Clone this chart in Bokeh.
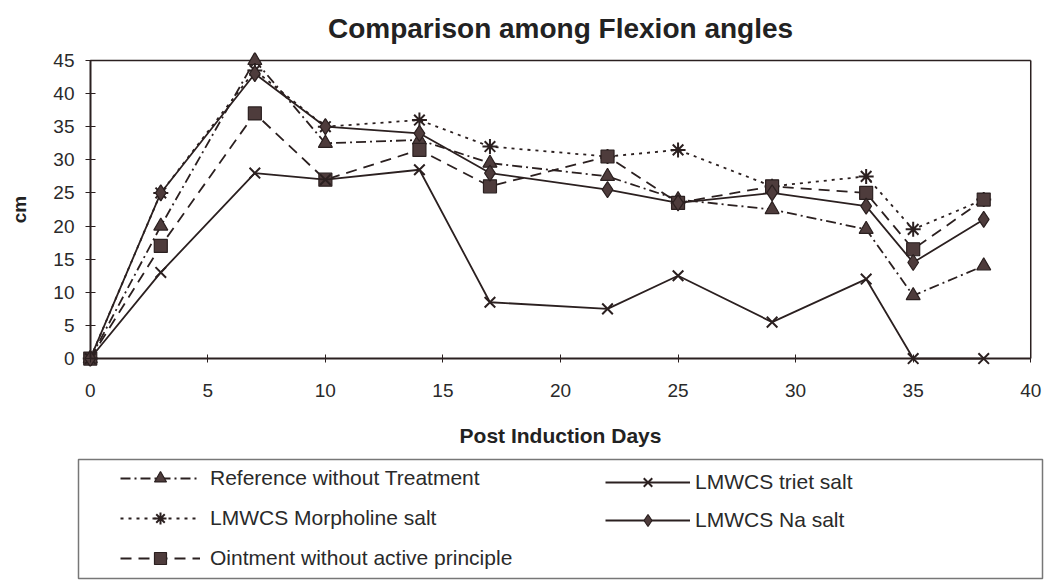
from bokeh.plotting import figure
from bokeh.layouts import column
from bokeh.models import Legend, LegendItem, FixedTicker, Range1d, LinearAxis
from bokeh.embed import file_html
from bokeh.resources import INLINE

# ---- data ----
days = [0, 3, 7, 10, 14, 17, 22, 25, 29, 33, 35, 38]
reference_without_treatment = [0, 20, 45, 32.5, 33, 29.5, 27.5, 24, 22.5, 19.5, 9.5, 14]
lmwcs_morpholine = [0, 25, 43.5, 35, 36, 32, 30.5, 31.5, 26, 27.5, 19.5, 24]
ointment_without_active = [0, 17, 37, 27, 31.5, 26, 30.5, 23.5, 26, 25, 16.5, 24]
lmwcs_triet = [0, 13, 28, 27, 28.5, 8.5, 7.5, 12.5, 5.5, 12, 0, 0]
lmwcs_na = [0, 25, 43, 35, 34, 28, 25.5, 23.5, 25, 23, 14.5, 21]

x_ticks = [0, 5, 10, 15, 20, 25, 30, 35, 40]
y_ticks = [0, 5, 10, 15, 20, 25, 30, 35, 40, 45]

series_names = [
    "Reference without Treatment",
    "LMWCS Morpholine salt",
    "Ointment without active principle",
    "LMWCS triet salt",
    "LMWCS Na salt",
]

INK = "#2b2020"
TEXT = "#2a2a2a"
FONT = "Liberation Sans"

x0, x1 = x_ticks[0], x_ticks[-1]
y0, y1 = y_ticks[0], y_ticks[-1]

p = figure(width=1047, height=458,
           x_range=Range1d(x0 - 0.5, x1 + 0.5), y_range=Range1d(y0 - 1.2, y1 + 1.2),
           output_backend="svg", toolbar_location=None,
           min_border_left=76, min_border_right=5, min_border_top=52, min_border_bottom=92,
           title="Comparison among Flexion angles")
p.background_fill_color = "white"
p.border_fill_color = "white"
p.outline_line_color = None
p.xgrid.grid_line_color = None
p.ygrid.grid_line_color = None

p.title.text_font = FONT
p.title.text_font_size = "28px"
p.title.text_font_style = "bold"
p.title.text_color = "#222222"
p.title.align = "center"
p.title.standoff = 17

# label-only axes at the frame edges
for ax in (p.xaxis[0], p.yaxis[0]):
    ax.axis_line_color = None
    ax.major_tick_line_color = None
    ax.minor_tick_line_color = None
    ax.major_tick_out = 0
    ax.major_tick_in = 0
    ax.major_label_text_font = FONT
    ax.major_label_text_font_size = "19px"
    ax.major_label_text_color = TEXT
    ax.axis_label_text_font = FONT
    ax.axis_label_text_font_style = "bold"
    ax.axis_label_text_color = "#222222"

p.xaxis.ticker = FixedTicker(ticks=x_ticks)
p.yaxis.ticker = FixedTicker(ticks=y_ticks)
p.xaxis.major_label_standoff = 17
p.yaxis.major_label_standoff = 4
p.xaxis.axis_label = "Post Induction Days"
p.yaxis.axis_label = "cm"
p.xaxis.axis_label_text_font_size = "21px"
p.yaxis.axis_label_text_font_size = "19px"
p.xaxis.axis_label_standoff = 24
p.yaxis.axis_label_standoff = 20

# axis lines and ticks at the zero lines
xline = LinearAxis(fixed_location=0, bounds=(x0, x1), ticker=FixedTicker(ticks=x_ticks),
                   axis_line_color=INK, axis_line_width=2, major_tick_line_color=INK,
                   major_tick_in=4, major_tick_out=4, minor_tick_line_color=None,
                   major_label_text_font_size="0px", major_label_text_alpha=0)
yline = LinearAxis(fixed_location=0, bounds=(y0, y1), ticker=FixedTicker(ticks=y_ticks),
                   axis_line_color=INK, axis_line_width=2, major_tick_line_color=INK,
                   major_tick_in=5, major_tick_out=5, minor_tick_line_color=None,
                   major_label_text_font_size="0px", major_label_text_alpha=0)
p.add_layout(xline, "below")
p.add_layout(yline, "left")

# top and right edges of the plot box
p.line([x0, x1], [y1, y1], line_color=INK, line_width=1.5)
p.line([x1, x1], [y0, y1], line_color=INK, line_width=1.5)

styles = [
    (reference_without_treatment, "10 4 2 4", "triangle", 14),
    (lmwcs_morpholine, "3 5", "asterisk", 15),
    (ointment_without_active, "11 7", "square", 13),
    (lmwcs_triet, "solid", "x", 15),
    (lmwcs_na, "solid", "diamond", 16),
]


def draw(fig, vals, dash, marker, size):
    lr = fig.line(days, vals, line_color=INK, line_width=1.8, line_dash=dash)
    sr = fig.scatter(days, vals, marker=marker, size=size, fill_color="#4e3c3c",
                     line_color=INK, line_width=2 if marker in ("x", "asterisk") else 1.2)
    return lr, sr


for vals, dash, marker, size in styles:
    draw(p, vals, dash, marker, size)

# ---- legend panel (separate figure whose frame is the legend box) ----
p2 = figure(width=1047, height=122, x_range=Range1d(x0, x1), y_range=Range1d(1000, 1001),
            output_backend="svg", toolbar_location=None, x_axis_type=None, y_axis_type=None,
            min_border_left=78, min_border_right=5, min_border_top=1, min_border_bottom=2)
p2.outline_line_color = "#777777"
p2.outline_line_width = 1.5
p2.background_fill_color = "white"
p2.border_fill_color = "white"

items = []
for name, (vals, dash, marker, size) in zip(series_names, styles):
    lr, sr = draw(p2, vals, dash, marker, size)
    items.append(LegendItem(label=name, renderers=[lr, sr]))

common = dict(border_line_color=None, background_fill_alpha=0, padding=0,
              glyph_height=30, label_height=30, label_text_font=FONT,
              label_text_font_size="21px", label_text_color=TEXT, margin=0)
legend1 = Legend(items=[items[0], items[1], items[2]], location=(42, 5), spacing=10,
                 glyph_width=80, label_standoff=10, **common)
legend2 = Legend(items=[items[3], items[4]], location=(527, 43), spacing=8,
                 glyph_width=85, label_standoff=5, **common)
p2.add_layout(legend1)
p2.add_layout(legend2)

layout = column(p, p2, spacing=0)
open("out.html", "w").write(file_html(layout, INLINE))
